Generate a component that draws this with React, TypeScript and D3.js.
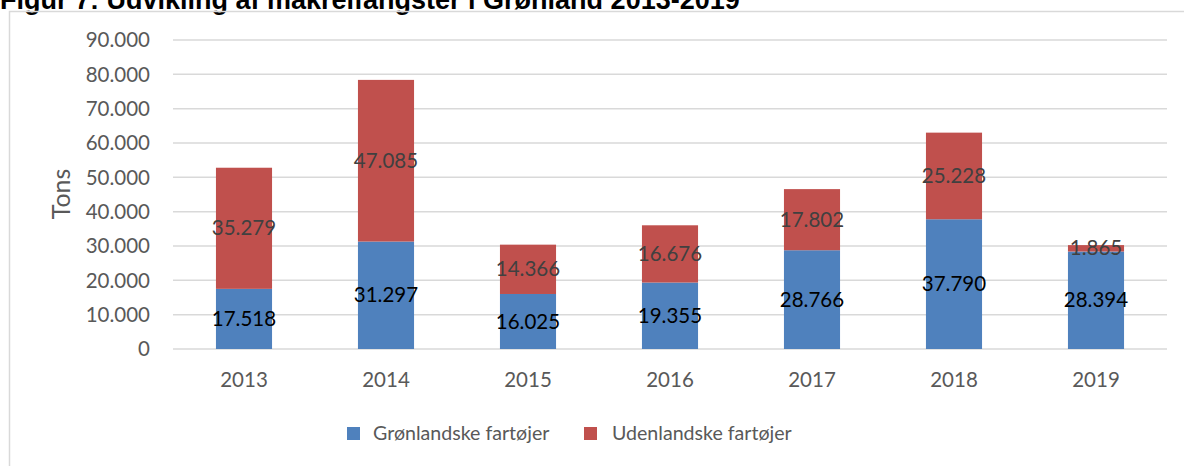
import React from "react";
import * as d3 from "d3";

const years = ["2013", "2014", "2015", "2016", "2017", "2018", "2019"];
const groenlandske = [17518, 31297, 16025, 19355, 28766, 37790, 28394];
const udenlandske = [35279, 47085, 14366, 16676, 17802, 25228, 1865];
const yTicks = [0, 10000, 20000, 30000, 40000, 50000, 60000, 70000, 80000, 90000];
const seriesNames = ["Grønlandske fartøjer", "Udenlandske fartøjer"];
const colors = ["#4F81BD", "#C0504D"];

const W = 1184;
const H = 466;
const FONT = "Lato, 'Open Sans', sans-serif";

const fmt = (v: number) => {
  if (v === 0) return "0";
  const s = Math.round(v).toString();
  return s.replace(/\B(?=(\d{3})+(?!\d))/g, ".");
};

export default function App() {
  const x = d3.scaleBand<string>().domain(years).range([173, 1167]).paddingInner(0.605).paddingOuter(0.3025);
  const y = d3.scaleLinear().domain([0, 90000]).range([349, 40]);

  const rows = years.map((yr, i) => ({ yr, g: groenlandske[i], u: udenlandske[i] }));
  const stack = d3.stack<any>().keys(["g", "u"])(rows);

  return (
    <svg width={W} height={H} style={{ position: "absolute", left: 0, top: 0, display: "block" }} fontFamily={FONT}>
      <rect x={0} y={0} width={W} height={H} fill="#fff" />
      <text x={0} y={8.5} fontFamily="'Liberation Sans', Arial, sans-serif" fontWeight="bold" fontSize={27} fill="#000">
        Figur 7: Udvikling af makrelfangster i Grønland 2013-2019
      </text>
      <path d={`M9.5,${H + 2} V11.5 H${W + 2}`} fill="none" stroke="#d9d9d9" strokeWidth={1.5} />
      {yTicks.map((t) => (
        <g key={t}>
          <line x1={173} x2={1167} y1={y(t)} y2={y(t)} stroke="#d9d9d9" strokeWidth={1.5} />
          <text x={150} y={y(t)} dy="0.35em" textAnchor="end" fontSize={20.5} fill="#595959">
            {fmt(t)}
          </text>
        </g>
      ))}
      <text transform="translate(61,194) rotate(-90)" textAnchor="middle" dy="0.35em" fontSize={25} fill="#595959">
        Tons
      </text>
      {stack.map((layer, si) =>
        layer.map((d, i) => (
          <rect
            key={`${si}-${i}`}
            x={x(years[i])}
            y={y(d[1])}
            width={x.bandwidth()}
            height={y(d[0]) - y(d[1])}
            fill={colors[si]}
          />
        ))
      )}
      {stack.map((layer, si) =>
        layer.map((d, i) => (
          <text
            key={`l${si}-${i}`}
            x={(x(years[i]) as number) + x.bandwidth() / 2}
            y={y((d[0] + d[1]) / 2)}
            dy="0.35em"
            textAnchor="middle"
            fontSize={20.5}
            fill={si === 0 ? "#000" : "#404040"}
          >
            {fmt(d[1] - d[0])}
          </text>
        ))
      )}
      {years.map((yr) => (
        <text key={yr} x={(x(yr) as number) + x.bandwidth() / 2} y={387} textAnchor="middle" fontSize={20.5} fill="#595959">
          {yr}
        </text>
      ))}
      <g>
        <rect x={347} y={427} width={13} height={13} fill={colors[0]} />
        <text x={373} y={433.5} dy="0.35em" fontSize={19.6} fill="#595959">
          {seriesNames[0]}
        </text>
        <rect x={584} y={427} width={13} height={13} fill={colors[1]} />
        <text x={612} y={433.5} dy="0.35em" fontSize={19.6} fill="#595959">
          {seriesNames[1]}
        </text>
      </g>
    </svg>
  );
}
